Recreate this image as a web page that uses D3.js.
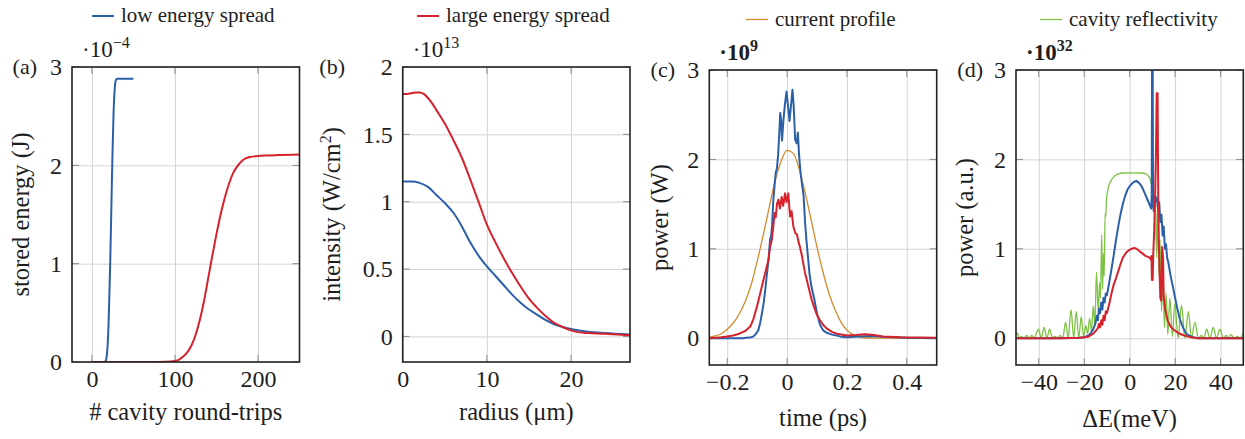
<!DOCTYPE html>
<html lang="en">
<head>
<meta charset="utf-8">
<title>Stored energy, intensity, power and spectrum</title>
<style>
body { margin: 0; background: #fff; }
svg text { font-size: 21px; fill: #1e1e1e; }
svg .tick text { font-size: 24px; }
svg text.axlabel { font-size: 24.5px; }
svg text.tag { font-size: 22px; }
svg text.expo { font-size: 23px; }
.grid line { stroke: #d4d4d4; stroke-width: 1; }
.tickmark { stroke: #8a8a8a; stroke-width: 1; }
.frame { fill: none; stroke: #222; stroke-width: 1.6; }
</style>
<script src="https://d3js.org/d3.v7.min.js"></script>
</head>
<body>
<svg id="fig" width="1245" height="439"></svg>
<script>

// ---- data ----

// (a) stored energy vs round trips, units 1e-4 J
var aBlue = [[0,0],[15,0],[16,0.005],[17,0.02],[18,0.07],[19,0.18],[20,0.38],[21,0.68],[22,1.0],[23,1.4],[24,1.82],[25,2.2],[26,2.52],[27,2.72],[28,2.83],[29,2.87],[30,2.88],[35,2.88],[40,2.88],[50,2.88]];
var aRed = [[0,0],[60,0],[80,0.001],[95,0.005],[100,0.01],[105,0.025],[110,0.055],[115,0.1],[120,0.17],[125,0.28],[130,0.43],[135,0.62],[140,0.85],[145,1.08],[150,1.3],[155,1.5],[160,1.67],[165,1.81],[170,1.92],[175,1.99],[180,2.04],[185,2.07],[190,2.085],[200,2.095],[210,2.1],[225,2.105],[250,2.11]];

// (b) intensity vs radius, units 1e13 W/cm2
var bBlue = [[0,1.15],[1,1.15],[2,1.14],[3,1.11],[4,1.05],[5,0.99],[6,0.92],[7,0.82],[8,0.7],[9,0.6],[10,0.52],[11,0.45],[12,0.38],[13,0.31],[14,0.25],[15,0.2],[16,0.16],[17,0.12],[18,0.09],[19,0.07],[20,0.055],[22,0.035],[24,0.025],[27,0.015]];
var bRed = [[0,1.8],[0.5,1.8],[1,1.805],[1.5,1.81],[2,1.81],[2.5,1.8],[3,1.77],[3.5,1.73],[4,1.68],[5,1.58],[6,1.46],[7,1.33],[8,1.17],[9,1.0],[10,0.83],[11,0.7],[12,0.58],[13,0.47],[14,0.37],[15,0.28],[16,0.21],[17,0.15],[18,0.1],[19,0.07],[20,0.045],[21,0.03],[22,0.025],[24,0.02],[26,0.012],[27,0.01]];

// (c) power vs time, units 1e9 W
var cOrange = [[-0.26,0.01],[-0.24,0.025],[-0.22,0.05],[-0.2,0.1],[-0.18,0.17],[-0.16,0.27],[-0.14,0.41],[-0.12,0.6],[-0.1,0.86],[-0.08,1.15],[-0.06,1.46],[-0.04,1.76],[-0.02,1.98],[0,2.1],[0.02,2.07],[0.04,1.9],[0.06,1.63],[0.08,1.33],[0.1,1.02],[0.12,0.74],[0.14,0.5],[0.16,0.32],[0.18,0.18],[0.2,0.09],[0.22,0.04],[0.24,0.015],[0.26,0.005],[0.3,0],[0.5,0]];
var cBlue = [[-0.26,0],[-0.2,0],[-0.15,0],[-0.12,0.01],[-0.112,0.02],[-0.104,0.05],[-0.096,0.09],[-0.09,0.17],[-0.084,0.28],[-0.078,0.4],[-0.073,0.54],[-0.068,0.7],[-0.062,0.88],[-0.057,1.1],[-0.053,1.15],[-0.05,1.27],[-0.046,1.55],[-0.042,1.7],[-0.038,1.85],[-0.034,1.9],[-0.03,2.05],[-0.026,2.3],[-0.023,2.52],[-0.02,2.44],[-0.017,2.21],[-0.012,2.45],[-0.007,2.62],[-0.002,2.76],[0.003,2.6],[0.008,2.43],[0.013,2.6],[0.018,2.78],[0.022,2.6],[0.027,2.22],[0.032,2.18],[0.036,2.3],[0.04,2.05],[0.045,1.85],[0.05,1.72],[0.055,1.6],[0.06,1.3],[0.065,1.08],[0.07,0.9],[0.075,0.72],[0.08,0.6],[0.09,0.45],[0.1,0.28],[0.11,0.15],[0.12,0.09],[0.132,0.06],[0.15,0.04],[0.177,0.02],[0.2,0.01],[0.24,0.02],[0.28,0.025],[0.32,0.015],[0.4,0.005],[0.5,0]];
var cRed = [[-0.26,0],[-0.24,0.005],[-0.22,0.01],[-0.2,0.02],[-0.18,0.03],[-0.16,0.05],[-0.14,0.08],[-0.123,0.13],[-0.112,0.22],[-0.101,0.35],[-0.09,0.5],[-0.079,0.65],[-0.068,0.8],[-0.062,0.88],[-0.057,1.02],[-0.051,1.1],[-0.046,1.25],[-0.042,1.4],[-0.038,1.35],[-0.034,1.5],[-0.029,1.55],[-0.024,1.45],[-0.018,1.58],[-0.013,1.48],[-0.007,1.62],[-0.002,1.52],[0.004,1.62],[0.008,1.45],[0.01,1.36],[0.015,1.42],[0.021,1.25],[0.027,1.18],[0.033,1.16],[0.038,1.08],[0.043,1.02],[0.049,0.93],[0.055,0.82],[0.06,0.73],[0.066,0.65],[0.071,0.58],[0.077,0.5],[0.082,0.43],[0.088,0.37],[0.093,0.32],[0.1,0.26],[0.11,0.2],[0.12,0.15],[0.132,0.11],[0.15,0.07],[0.166,0.05],[0.2,0.03],[0.23,0.035],[0.26,0.045],[0.29,0.035],[0.32,0.02],[0.38,0.01],[0.5,0.005]];

// (d) spectrum vs photon energy offset, units 1e32
var dGreen = [[-50,0.03],[-49.4,0.06],[-48.6,0],[-47.6,0.02],[-46.7,0],[-45.2,0.03],[-44.2,0],[-43.1,0.03],[-42.1,0],[-40.1,0.1],[-38.9,0],[-37.6,0.12],[-36.4,0],[-35.2,0.1],[-34,0],[-32.8,0.02],[-31.7,0],[-30.5,0.03],[-29.4,0],[-28.2,0.18],[-27,0],[-25.8,0.32],[-24.6,0],[-23.5,0.3],[-22.4,0],[-21.3,0.24],[-20.3,0.02],[-19.3,0.14],[-18.5,0.05],[-17.6,0.22],[-16.8,0.08],[-16,0.36],[-15.3,0.15],[-14.6,0.74],[-13.8,0.3],[-13.2,0.62],[-12.8,0.45],[-12.3,1.16],[-11.9,0.55],[-11.5,0.95],[-11.2,0.7],[-10.8,1.4],[-10.5,1.36],[-10.2,1.55],[-10,1.6],[-9.5,1.67],[-9,1.72],[-8,1.77],[-7,1.805],[-6,1.825],[-5,1.838],[-3,1.848],[2,1.85],[5,1.848],[7,1.84],[8,1.82],[9,1.78],[9.6,1.72],[10.2,1.62],[10.8,1.5],[11.3,1.58],[11.9,0.9],[12.4,1.52],[12.9,0.72],[13.4,1.1],[14,0.3],[14.7,0.72],[15.3,0.12],[16,0.5],[16.8,0.04],[17.7,0.45],[18.8,0.02],[19.9,0.39],[21.3,0],[22.8,0.37],[24.3,0],[25.8,0.3],[27.2,0],[28.7,0.18],[30.2,0],[31.5,0.03],[32.7,0],[33.9,0.1],[35.3,0],[36.8,0.12],[38.2,0],[39.7,0.1],[41.2,0],[42.5,0.03],[43.5,0],[44.5,0.04],[46,0],[47.5,0.02],[48.6,0],[50,0.06]];
var dBlue = [[-50,0],[-30,0],[-22,0.005],[-20,0.01],[-18,0.03],[-17,0.06],[-16,0.1],[-15,0.17],[-14.5,0.25],[-14,0.2],[-13.5,0.33],[-13,0.28],[-12.5,0.4],[-12,0.32],[-11.5,0.45],[-11,0.4],[-10.5,0.5],[-10,0.48],[-9,0.62],[-8,0.77],[-7,0.93],[-6,1.1],[-5,1.25],[-4,1.39],[-3,1.5],[-2,1.59],[-1,1.66],[0,1.7],[1,1.73],[2,1.75],[3,1.76],[4,1.74],[5,1.71],[6,1.66],[7,1.6],[8,1.54],[9,1.48],[9.5,1.45],[9.7,1.6],[9.9,3.4],[10.1,3.4],[10.3,1.5],[10.6,1.42],[11,1.5],[11.5,1.58],[12,1.55],[12.5,1.45],[13,1.52],[13.5,1.3],[14,1.38],[14.5,1.15],[15,1.25],[15.5,1.0],[16,1.05],[16.5,0.9],[17,0.85],[18,0.7],[19,0.58],[20,0.45],[21,0.33],[22,0.22],[23,0.15],[24,0.09],[25,0.05],[26,0.03],[28,0.01],[30,0],[50,0]];
var dRed = [[-50,0],[-30,0],[-22,0.005],[-20,0.01],[-18,0.02],[-16,0.05],[-15,0.08],[-14,0.11],[-13.5,0.16],[-13,0.12],[-12.5,0.2],[-12,0.15],[-11.5,0.25],[-11,0.2],[-10.5,0.3],[-10,0.28],[-9,0.38],[-8,0.5],[-7,0.6],[-6,0.67],[-5,0.75],[-4,0.83],[-3,0.9],[-2,0.94],[-1,0.97],[0,0.99],[1,1.0],[2,1.01],[3,1.0],[4,0.98],[5,0.96],[6,0.94],[7,0.92],[8,0.91],[8.8,0.9],[9.3,0.88],[9.6,0.92],[9.8,0.65],[10.1,0.65],[10.4,0.95],[10.8,1.2],[11.2,1.6],[11.6,2.1],[11.9,2.74],[12.3,2.74],[12.6,1.5],[12.9,1.0],[13.2,0.7],[13.5,0.45],[13.9,0.42],[14.3,1.02],[14.7,0.9],[15,0.45],[15.5,0.35],[16,0.28],[16.7,0.2],[18,0.13],[19.6,0.09],[22,0.05],[24,0.03],[27,0.01],[30,0],[50,0]];

// tick values
var aXTicks = [0, 100, 200], aYTicks = [0, 1, 2, 3];
var bXTicks = [0, 10, 20], bYTicks = [0, 0.5, 1, 1.5, 2];
var cXTicks = [-0.2, 0, 0.2, 0.4], cYTicks = [0, 1, 2, 3];
var dXTicks = [-40, -20, 0, 20, 40], dYTicks = [0, 1, 2, 3];

var blue = "#2b60a8", red = "#d6222d", orange = "#d38a2e", green = "#7dc244";
var FONT = "'Liberation Serif', 'Times New Roman', serif";

// ---- layout ----
var svg = d3.select("#fig");

function fmt(d) { return d < 0 ? "\u2212" + Math.abs(d) : String(d); }

var panels = [
  {tag: "(a)", left: 72, right: 299.5, top: 67, bottom: 362, xd: [-24, 250], yd: [0, 3],
   xt: aXTicks, yt: aYTicks, exp: "\u22124", bold: false, xlab: "# cavity round-trips", ylab: "stored energy (J)",
   ylabX: 29, tagRight: 37, xlabDy: 58,
   lines: [{d: aBlue, c: blue, w: 2, smooth: true}, {d: aRed, c: red, w: 2, smooth: true}]},
  {tag: "(b)", left: 402.7, right: 630, top: 67, bottom: 362, xd: [0, 27], yd: [-0.19, 2],
   xt: bXTicks, yt: bYTicks, exp: "13", bold: false, xlab: "radius (\u03bcm)", ylab: "intensity",
   ylabX: 340, tagRight: 345, xlabDy: 58,
   lines: [{d: bBlue, c: blue, w: 2, smooth: true}, {d: bRed, c: red, w: 2, smooth: true}]},
  {tag: "(c)", left: 709.3, right: 936.7, top: 70, bottom: 365, xd: [-0.26, 0.5], yd: [-0.3, 3],
   xt: cXTicks, yt: cYTicks, exp: "9", bold: true, xlab: "time (ps)", ylab: "power (W)",
   ylabX: 668, tagRight: 675, xlabDy: 61,
   lines: [{d: cOrange, c: orange, w: 1.3, smooth: true}, {d: cBlue, c: blue, w: 2, smooth: false}, {d: cRed, c: red, w: 2, smooth: false}]},
  {tag: "(d)", left: 1016, right: 1243.3, top: 70, bottom: 365, xd: [-50, 50], yd: [-0.3, 3],
   xt: dXTicks, yt: dYTicks, exp: "32", bold: true, xlab: "\u0394E(meV)", ylab: "power (a.u.)",
   ylabX: 973, tagRight: 983, xlabDy: 62,
   lines: [{d: dGreen, c: green, w: 1.3, smooth: true}, {d: dBlue, c: blue, w: 2, smooth: false}, {d: dRed, c: red, w: 2, smooth: false}]}
];

panels.forEach(function(p, i) {
  var w = p.right - p.left, h = p.bottom - p.top;
  var x = d3.scaleLinear().domain(p.xd).range([0, w]);
  var y = d3.scaleLinear().domain(p.yd).range([h, 0]);
  var g = svg.append("g").attr("transform", "translate(" + p.left + "," + p.top + ")");

  // grid
  g.append("g").attr("class", "grid").attr("transform", "translate(0," + h + ")")
    .call(d3.axisBottom(x).tickValues(p.xt).tickSize(-h).tickFormat(""))
    .call(function(s) { s.select(".domain").remove(); });
  g.append("g").attr("class", "grid")
    .call(d3.axisLeft(y).tickValues(p.yt).tickSize(-w).tickFormat(""))
    .call(function(s) { s.select(".domain").remove(); });

  // small ticks inside the frame, all four sides
  var tl = 7;
  p.xt.forEach(function(v) {
    g.append("line").attr("class", "tickmark").attr("x1", x(v)).attr("x2", x(v)).attr("y1", h).attr("y2", h - tl);
    g.append("line").attr("class", "tickmark").attr("x1", x(v)).attr("x2", x(v)).attr("y1", 0).attr("y2", tl);
  });
  p.yt.forEach(function(v) {
    g.append("line").attr("class", "tickmark").attr("y1", y(v)).attr("y2", y(v)).attr("x1", 0).attr("x2", tl);
    g.append("line").attr("class", "tickmark").attr("y1", y(v)).attr("y2", y(v)).attr("x1", w).attr("x2", w - tl);
  });

  // curves
  var clipId = "clip" + i;
  g.append("clipPath").attr("id", clipId).append("rect").attr("width", w).attr("height", h);
  var plot = g.append("g").attr("clip-path", "url(#" + clipId + ")");
  p.lines.forEach(function(s) {
    var line = d3.line().x(function(d) { return x(d[0]); }).y(function(d) { return y(d[1]); })
      .curve(s.smooth ? d3.curveMonotoneX : d3.curveLinear);
    plot.append("path").datum(s.d).attr("d", line)
      .attr("fill", "none").attr("stroke", s.c).attr("stroke-width", s.w).attr("stroke-linejoin", "round");
  });

  g.append("rect").attr("class", "frame").attr("width", w).attr("height", h);

  // tick labels
  g.append("g").attr("transform", "translate(0," + h + ")")
    .call(d3.axisBottom(x).tickValues(p.xt).tickSize(0).tickPadding(8).tickFormat(fmt))
    .call(function(s) { s.select(".domain").remove(); });
  g.append("g")
    .call(d3.axisLeft(y).tickValues(p.yt).tickSize(0).tickPadding(10).tickFormat(fmt))
    .call(function(s) { s.select(".domain").remove(); });

  // panel tag next to the top tick
  g.append("text").attr("class", "tag").attr("x", p.tagRight - p.left).attr("y", y(p.yt[p.yt.length - 1]))
    .attr("dy", "0.32em").attr("text-anchor", "end").text(p.tag);

  // scale factor
  var ex = g.append("text").attr("class", "expo").attr("x", 10).attr("y", -10)
    .style("font-weight", p.bold ? "bold" : null);
  ex.append("tspan").text("\u00b710");
  ex.append("tspan").attr("dy", -9).style("font-size", "16px").text(p.exp);

  // axis titles
  g.append("text").attr("class", "axlabel").attr("x", w / 2).attr("y", h + p.xlabDy)
    .attr("text-anchor", "middle").text(p.xlab);
  var yl = g.append("text").attr("class", "axlabel").attr("text-anchor", "middle")
    .attr("transform", "translate(" + (p.ylabX - p.left) + "," + (h / 2) + ") rotate(-90)");
  if (p.ylab === "intensity") {
    yl.append("tspan").text("intensity (W/cm");
    yl.append("tspan").attr("dy", -9).style("font-size", "16px").text("2");
    yl.append("tspan").attr("dy", 9).text(")");
  } else {
    yl.text(p.ylab);
  }
});

// legend row across the top
var legend = [
  {label: "low energy spread", c: blue, w: 2, x: 92, y: 16},
  {label: "large energy spread", c: red, w: 2, x: 417, y: 16},
  {label: "current profile", c: orange, w: 1.3, x: 746, y: 19.5},
  {label: "cavity reflectivity", c: green, w: 1.3, x: 1040, y: 19.5}
];
legend.forEach(function(l) {
  svg.append("line").attr("x1", l.x).attr("x2", l.x + 22).attr("y1", l.y).attr("y2", l.y)
    .attr("stroke", l.c).attr("stroke-width", l.w);
  svg.append("text").attr("x", l.x + 29).attr("y", l.y + 6).text(l.label);
});

// serif everywhere (axis groups carry their own sans-serif attribute)
svg.selectAll("g").attr("font-family", null);
svg.selectAll("text").style("font-family", FONT);

</script>
</body>
</html>
